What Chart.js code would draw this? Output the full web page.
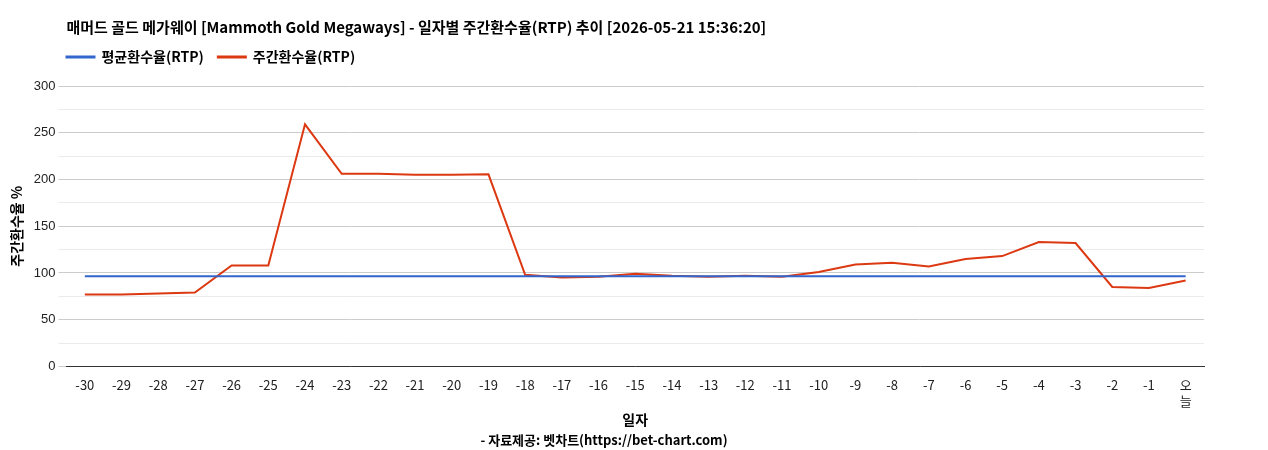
<!DOCTYPE html>
<html><head><meta charset="utf-8">
<script src="https://cdn.jsdelivr.net/npm/chart.js@4"></script>
<style>html,body{margin:0;background:#fff}#w{width:1268px;height:450px}</style>
</head><body><div id="w"><canvas id="c"></canvas></div>
<script>
const categories=["-30","-29","-28","-27","-26","-25","-24","-23","-22","-21","-20","-19","-18","-17","-16","-15","-14","-13","-12","-11","-10","-9","-8","-7","-6","-5","-4","-3","-2","-1",["오","늘"]];
const weeklyRTP=[77,77,78,79,108,108,259,206,206,205,205,205.5,98,95,96,99,97,96,97,96,101,109,111,107,115,118,133,132,85,84,92];
const avgRTP=categories.map(()=>96.5);
const F="'Noto Sans CJK KR','Noto Sans',sans-serif";
const A="'Liberation Sans','Noto Sans CJK KR',sans-serif";
new Chart(document.getElementById('c'),{type:'line',
data:{labels:categories,datasets:[
{label:'평균환수율(RTP)',data:avgRTP,borderColor:'#3366cc',backgroundColor:'#3366cc',borderWidth:2,pointRadius:0,tension:0},
{label:'주간환수율(RTP)',data:weeklyRTP,borderColor:'#dc3912',backgroundColor:'#dc3912',borderWidth:2,pointRadius:0,tension:0}]},
options:{responsive:true,maintainAspectRatio:false,animation:false,
layout:{padding:{left:4,right:64,top:18,bottom:2}},
plugins:{title:{display:true,text:'매머드 골드 메가웨이 [Mammoth Gold Megaways] - 일자별 주간환수율(RTP) 추이 [2026-05-21 15:36:20]',align:'start',color:'#000',font:{family:F,size:15,weight:'bold'},padding:{top:0,bottom:0}},
legend:{align:'start',labels:{boxWidth:28,boxHeight:1,color:'#000',font:{family:F,size:14,weight:'bold'},padding:14}},
subtitle:{display:true,position:'bottom',text:'- 자료제공: 벳차트(https://bet-chart.com)',color:'#000',font:{family:F,size:13,weight:'bold'},padding:{top:0}}},
scales:{x:{offset:true,grid:{display:false},border:{color:'#333'},ticks:{color:'#222',font:{family:F,size:13},minRotation:0,maxRotation:0,autoSkip:false},
title:{display:true,text:'일자',color:'#000',font:{family:F,size:14,weight:'bold'},padding:{top:0}}},
y:{min:0,max:300,ticks:{stepSize:25,color:'#222',font:{family:A,size:13},callback:v=>v%50===0?v:''},
grid:{color:c=>c.tick&&c.tick.value%50===0?'#ccc':'#ebebeb'},border:{display:false},
title:{display:true,text:'주간환수율 %',color:'#000',font:{family:F,size:14,weight:'bold'},padding:{bottom:6}}}}},
plugins:[{id:'gap',beforeInit(ch){const f=ch.legend.fit;ch.legend.fit=function(){f.call(this);this.height+=12;};},
afterLayout(ch){const L=ch.chartArea.left;const t=ch.titleBlock;t.left=L;const lg=ch.legend;lg.left=L-14;lg.adjustHitBoxes();}}]});
</script></body></html>
